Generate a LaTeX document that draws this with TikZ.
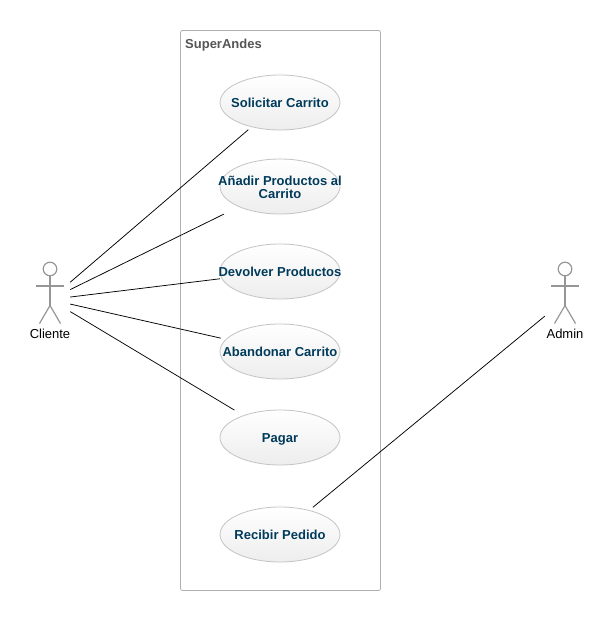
\documentclass[tikz,border=0pt]{standalone}
\usepackage{fontspec}
\setmainfont{Liberation Sans}
\definecolor{casetext}{RGB}{0,59,92}
\definecolor{caseline}{RGB}{195,195,195}
\definecolor{framegray}{RGB}{175,175,175}
\definecolor{stickgray}{RGB}{150,150,150}
\definecolor{titlegray}{RGB}{85,85,85}
\tikzset{
  usecase/.style={rectangle,minimum width=121pt,minimum height=56pt,inner sep=0pt,
    align=center,font=\bfseries\fontsize{13}{13}\selectfont,text=casetext,
    text height=13.6pt,text depth=3pt,
    path picture={\draw[caseline,line width=0.8pt,top color=white,bottom color=black!7,xshift=0.4pt]
      (path picture bounding box.center) ellipse (60pt and 27.5pt);}},
  actorbox/.style={rectangle,minimum width=40pt,minimum height=70pt,inner sep=0pt},
  actorname/.style={font=\fontsize{13}{13}\selectfont,inner sep=0pt},
  stick/.style={stickgray,line width=1.2pt},
  assoc/.style={black,line width=0.75pt,shorten >=-1.5pt}
}
\newcommand{\stickman}[1]{
  \begin{scope}[shift={(#1)}]
    \draw[stick] (0,-30.5) circle (6.8pt);
    \draw[stick] (0,-23.7) -- (0,6);
    \draw[stick] (-14,-13.5) -- (14,-13.5);
    \draw[stick] (-10.5,24) -- (0,6) -- (10.5,24);
  \end{scope}
}

\begin{document}
\begin{tikzpicture}[x=1pt,y=-1pt]
    \useasboundingbox (0,0) rectangle (615,620);
    % system frame
    \node[draw=framegray,line width=0.8pt,rounded corners=2pt,minimum width=200pt,minimum height=560pt,inner sep=0pt] (superandes) at (280.5,310.5) {};
    \node[anchor=west,inner sep=0pt,font=\bfseries\fontsize{13}{13}\selectfont,text=titlegray] (titulo) at (185,45.5) {SuperAndes};
    % use cases
    \node[usecase] (solicitar) at (280,102.5) {Solicitar Carrito};
    \node[usecase,text height=28pt] (anadir) at (280,186.5) {Añadir Productos al\\Carrito};
    \node[usecase] (devolver) at (280,271.5) {Devolver Productos};
    \node[usecase] (abandonar) at (280,351.5) {Abandonar Carrito};
    \node[usecase] (pagar) at (280,437.5) {Pagar};
    \node[usecase] (recibir) at (280,534.5) {Recibir Pedido};
    % actors
    \node[actorbox] (cliente) at (50,299.5) {};
    \node[actorbox] (admin) at (565,299.5) {};
    \stickman{cliente}
    \stickman{admin}
    \node[actorname] (clientename) at (50,333.5) {Cliente};
    \node[actorname] (adminname) at (565,333.5) {Admin};
    % associations
    \draw[assoc] (cliente) -- (solicitar);
    \draw[assoc] (cliente) -- (anadir);
    \draw[assoc] (cliente) -- (devolver);
    \draw[assoc] (cliente) -- (abandonar);
    \draw[assoc] (cliente) -- (pagar);
    \draw[assoc] (admin) -- (recibir);
\end{tikzpicture}
\end{document}
